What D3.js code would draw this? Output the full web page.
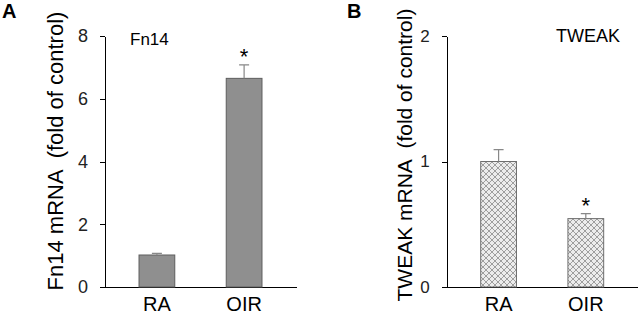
<!DOCTYPE html>
<html>
<head>
<meta charset="utf-8">
<script src="https://cdn.jsdelivr.net/npm/d3@7"></script>
<style>
  body { margin: 0; background: #fff; }
  svg { display: block; font-family: "Liberation Sans", Arial, sans-serif; }
  .axis path, .axis line { stroke: #000; shape-rendering: crispEdges; }
  .axis text { fill: #222; }
  .ylabel { white-space: pre; }
</style>
</head>
<body>
<div id="chart"></div>
<script>
const groups = ['RA', 'OIR'];
const fn14Values = [1.02, 6.65];
const fn14Errors = [0.05, 0.43];
const fn14Stars = ['', '*'];
const fn14Ticks = [0, 2, 4, 6, 8];

const tweakValues = [1.0, 0.545];
const tweakErrors = [0.095, 0.04];
const tweakStars = ['', '*'];
const tweakTicks = [0, 1, 2];

const width = 639;
const height = 315;

const svg = d3.select('#chart')
  .append('svg')
  .attr('width', width)
  .attr('height', height);

// crosshatch fill for the TWEAK bars
const defs = svg.append('defs');
const pat = defs.append('pattern')
  .attr('id', 'hatch')
  .attr('patternUnits', 'userSpaceOnUse')
  .attr('width', 6)
  .attr('height', 6);
pat.append('rect').attr('width', 6).attr('height', 6).attr('fill', '#ececec');
pat.append('path')
  .attr('d', 'M0,0L6,6M6,0L0,6M-1,5L1,7M5,-1L7,1M-1,1L1,-1M5,7L7,5')
  .attr('stroke', '#8a8a8a')
  .attr('stroke-width', 0.8);

function drawPanel(opt) {
  const g = svg.append('g');
  const y = d3.scaleLinear().domain(opt.domain).range([287, 36]);
  const x = d3.scaleBand()
    .domain(groups)
    .range([opt.left, opt.left + 191])
    .paddingInner(0.59)
    .paddingOuter(0.39);

  g.append('g')
    .attr('class', 'axis')
    .attr('transform', `translate(${opt.left},0)`)
    .call(d3.axisLeft(y).tickValues(opt.ticks).tickFormat(d3.format('d'))
      .tickSize(5).tickSizeOuter(0).tickPadding(12))
    .call(a => a.selectAll('text').style('font-size', opt.tickFont + 'px'));

  g.append('g')
    .attr('class', 'axis')
    .attr('transform', `translate(0,${y(0)})`)
    .call(d3.axisBottom(x).tickSize(0).tickPadding(10))
    .call(a => a.selectAll('text').style('font-size', '20px').style('fill', '#000'));

  g.selectAll('.bar')
    .data(groups)
    .enter()
    .append('rect')
    .attr('class', 'bar')
    .attr('x', d => x(d))
    .attr('width', x.bandwidth())
    .attr('y', (d, i) => y(opt.values[i]))
    .attr('height', (d, i) => y(0) - y(opt.values[i]))
    .attr('fill', opt.fill)
    .attr('stroke', opt.stroke)
    .attr('stroke-width', 1);

  g.selectAll('.err')
    .data(groups)
    .enter()
    .append('path')
    .attr('class', 'err')
    .attr('d', (d, i) => {
      const cx = x(d) + x.bandwidth() / 2;
      const y0 = y(opt.values[i]);
      const y1 = y(opt.values[i] + opt.errors[i]);
      return `M${cx},${y0}V${y1}M${cx - 5},${y1}H${cx + 5}`;
    })
    .attr('stroke', '#888')
    .attr('stroke-width', 1.2)
    .attr('fill', 'none');

  g.selectAll('.star')
    .data(groups)
    .enter()
    .append('text')
    .attr('class', 'star')
    .attr('x', d => x(d) + x.bandwidth() / 2)
    .attr('y', (d, i) => y(opt.values[i] + opt.errors[i]) - 1)
    .attr('text-anchor', 'middle')
    .style('font-size', '22px')
    .text((d, i) => opt.stars[i]);

  g.append('text')
    .attr('x', opt.geneX)
    .attr('y', opt.geneY)
    .style('font-size', opt.geneFont + 'px')
    .text(opt.gene);

  g.append('text')
    .attr('x', opt.letterX)
    .attr('y', 18)
    .style('font-size', '20px')
    .style('font-weight', 'bold')
    .text(opt.letter);

  g.append('text')
    .attr('class', 'ylabel')
    .attr('transform', `translate(${opt.labelX},${opt.labelY}) rotate(-90)`)
    .attr('text-anchor', 'middle')
    .style('font-size', opt.labelFont + 'px')
    .text(opt.label);
}

drawPanel({
  left: 105, domain: [0, 8], ticks: fn14Ticks, tickFont: 18,
  values: fn14Values, errors: fn14Errors, stars: fn14Stars,
  fill: '#8f8f8f', stroke: '#5e5e5e',
  gene: 'Fn14', geneX: 130, geneY: 45, geneFont: 17,
  letter: 'A', letterX: 2,
  label: 'Fn14 mRNA  (fold of control)', labelX: 63, labelY: 151, labelFont: 22
});

drawPanel({
  left: 446.7, domain: [0, 2], ticks: tweakTicks, tickFont: 17,
  values: tweakValues, errors: tweakErrors, stars: tweakStars,
  fill: 'url(#hatch)', stroke: '#6e6e6e',
  gene: 'TWEAK', geneX: 556, geneY: 42, geneFont: 18,
  letter: 'B', letterX: 347,
  label: 'TWEAK mRNA  (fold of control)', labelX: 412, labelY: 155, labelFont: 21
});
</script>
</body>
</html>
